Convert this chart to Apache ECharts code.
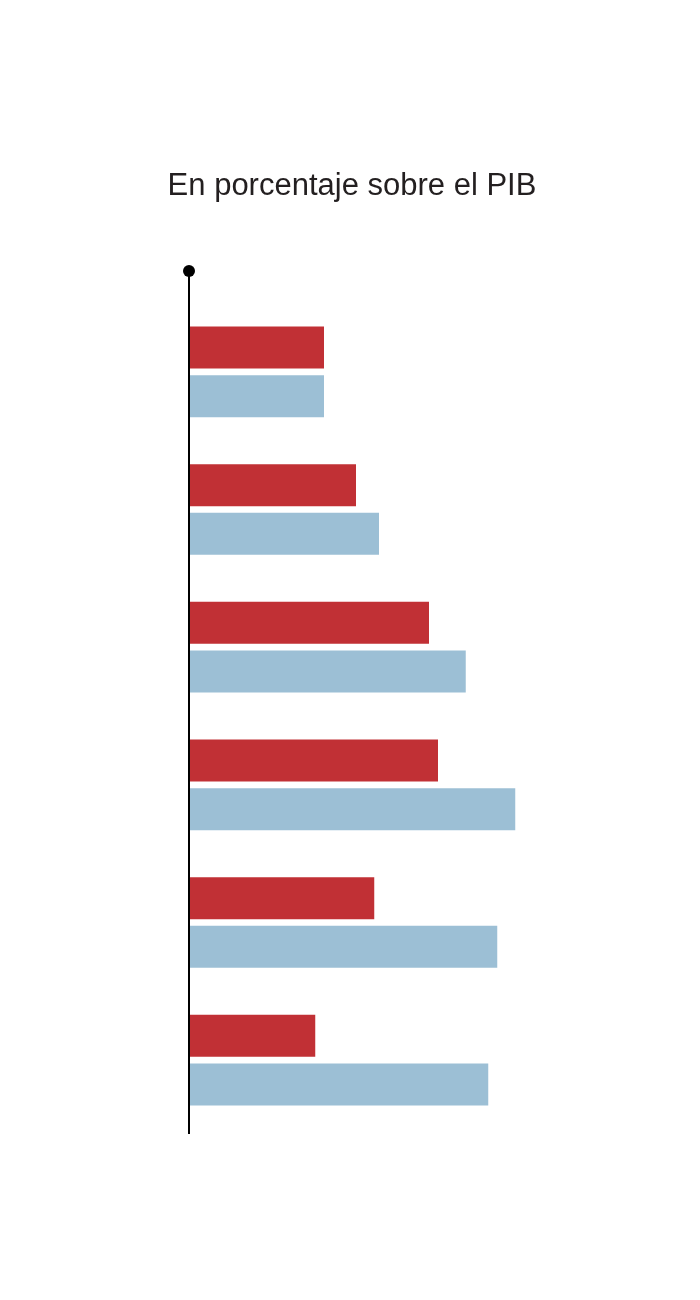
<!DOCTYPE html>
<html>
<head>
<meta charset="utf-8">
<style>html,body{margin:0;padding:0;background:#fff;}#c{width:700px;height:1300px;}</style>
<script src="https://cdn.jsdelivr.net/npm/echarts@6/dist/echarts.min.js"></script>
</head>
<body>
<div id="c"></div>
<script>
var titleText = 'En porcentaje sobre el PIB';
var categories = ['G1', 'G2', 'G3', 'G4', 'G5', 'G6'];
var redValues = [5.4, 6.68, 9.6, 9.96, 7.41, 5.05];
var blueValues = [5.4, 7.6, 11.07, 13.05, 12.33, 11.97];

var gridLeft = 189, gridTop = 303, gridHeight = 826, gridWidth = 500;
var chart = echarts.init(document.getElementById('c'), null, {renderer: 'canvas'});
chart.setOption({
  animation: false,
  backgroundColor: '#ffffff',
  title: {
    text: titleText,
    left: 347,
    textAlign: 'center',
    top: 166,
    textStyle: {fontFamily: 'Liberation Sans, Arial, sans-serif', fontSize: 31, fontWeight: 'normal', color: '#231f20'}
  },
  grid: {left: gridLeft, top: gridTop, width: gridWidth, height: gridHeight, containLabel: false},
  xAxis: {type: 'value', min: 0, max: 20, show: false},
  yAxis: {
    type: 'category', data: categories, inverse: true,
    axisLine: {show: false}, axisTick: {show: false}, axisLabel: {show: false}, splitLine: {show: false}
  },
  series: [
    {name: 'red', type: 'bar', data: redValues, barWidth: 42, barGap: '16%', itemStyle: {color: '#c13035'}},
    {name: 'blue', type: 'bar', data: blueValues, barWidth: 42, barGap: '16%', itemStyle: {color: '#9cbfd5'}}
  ],
  graphic: [
    {type: 'line', z: 100, shape: {x1: gridLeft, y1: gridTop - 33, x2: gridLeft, y2: gridTop + gridHeight + 5}, style: {stroke: '#000', lineWidth: 2}},
    {type: 'circle', z: 101, shape: {cx: gridLeft, cy: gridTop - 32, r: 6}, style: {fill: '#000'}}
  ]
});
</script>
</body>
</html>
